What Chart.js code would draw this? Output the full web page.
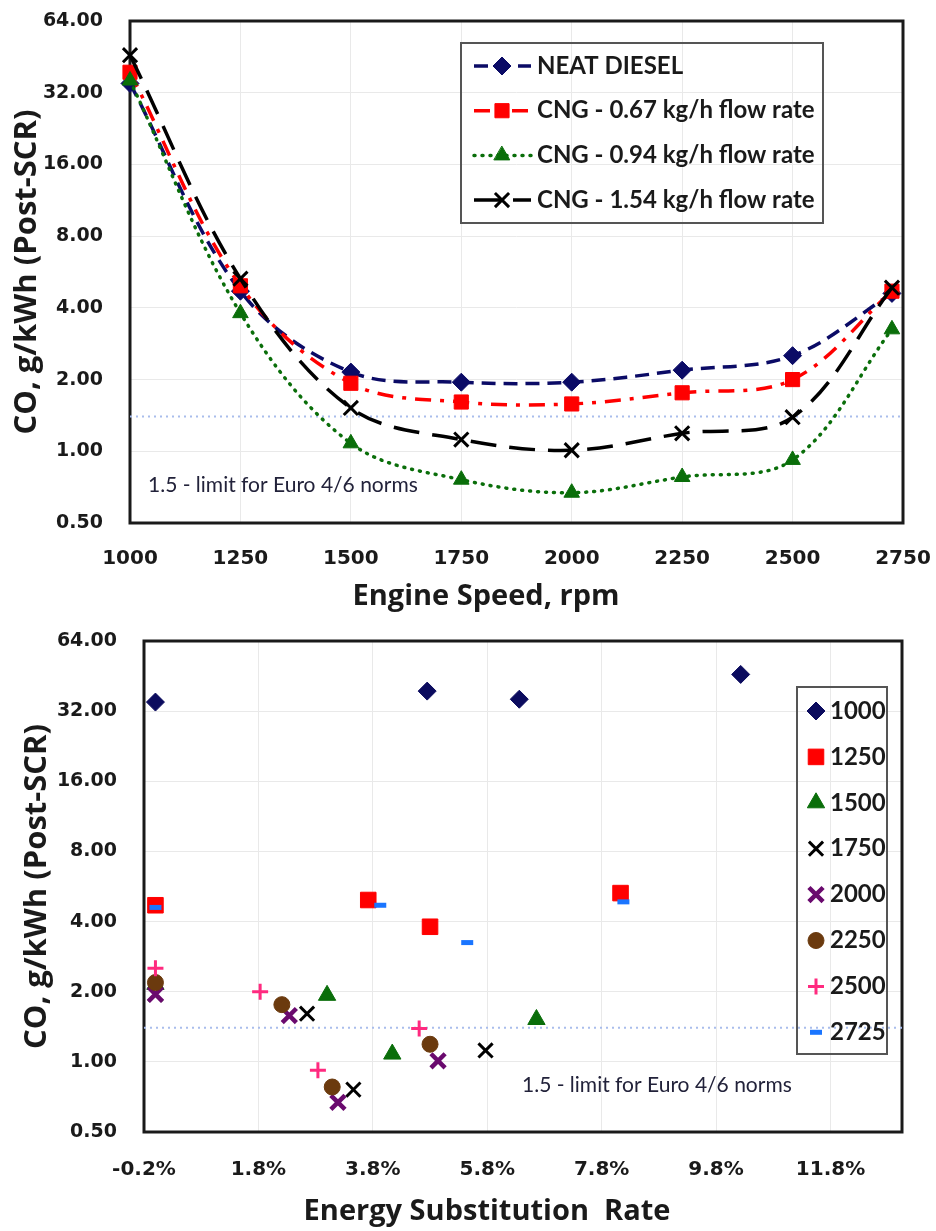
<!DOCTYPE html>
<html>
<head>
<meta charset="utf-8">
<title>CO (Post-SCR) vs engine speed and energy substitution rate</title>
<script src="https://cdn.jsdelivr.net/npm/chart.js@4.4.1/dist/chart.umd.min.js"></script>
<style>
  html, body { margin:0; padding:0; background:#fff; }
  canvas { display:block; }
</style>
</head>
<body>
<canvas id="speedChart" width="936" height="615"></canvas>
<canvas id="esrChart" width="936" height="616"></canvas>
<script>
// engine speeds (rpm) - last point is at 2725, axis runs to 2750
const engineSpeed = [1000, 1250, 1500, 1750, 2000, 2250, 2500, 2725];
const seriesLabels = ['NEAT DIESEL', 'CNG - 0.67 kg/h flow rate', 'CNG - 0.94 kg/h flow rate', 'CNG - 1.54 kg/h flow rate'];

// CO, g/kWh (post-SCR) per series
const coNeat = [35, 4.7, 2.15, 1.95, 1.95, 2.19, 2.52, 4.6];
const co067  = [39, 4.95, 1.93, 1.61, 1.58, 1.76, 2.0, 4.7];
const co094  = [36, 3.8, 1.08, 0.76, 0.67, 0.78, 0.92, 3.25];
const co154  = [46, 5.3, 1.52, 1.12, 1.01, 1.19, 1.39, 4.86];

// energy substitution rate (%) for the same points
const esrNeat = [0, 0, 0, 0, 0, 0, 0, 0];
const esr067  = [4.75, 3.72, 3.0, 2.65, 2.34, 2.21, 1.83, 3.93];
const esr094  = [6.36, 4.8, 4.14, 3.46, 3.19, 3.09, 2.84, 5.45];
const esr154  = [10.23, 8.13, 6.66, 5.77, 4.94, 4.8, 4.61, 8.18];

const speedLabels = ['1000', '1250', '1500', '1750', '2000', '2250', '2500', '2725'];
const coTicks = [0.5, 1, 2, 4, 8, 16, 32, 64];
const speedTicks = [1000, 1250, 1500, 1750, 2000, 2250, 2500, 2750];
const esrTicks = [-0.2, 1.8, 3.8, 5.8, 7.8, 9.8, 11.8];
const limitCO = 1.4;
const limitText = '1.5 - limit for Euro 4/6 norms';

Chart.defaults.font.family = 'Lato';
Chart.defaults.color = '#1a1a1a';

const TXT = '#1a1a1a';
const GRID = '#e9e9e9';
const tickFont = { family: 'DejaVu Sans', weight: 'bold', size: 19 };
const xTickFont = { family: 'DejaVu Sans', weight: 'bold', size: 20 };
const yTitleFont = { family: 'Open Sans', weight: 'bold', size: 31 };

// frame, limit note, x title (sits left of centre in the original) and the boxed legend
const decorPlugin = {
  id: 'decor',
  beforeDatasetsDraw(chart, args, o) {
    const { ctx, chartArea: a } = chart;
    ctx.save();
    ctx.strokeStyle = '#1a1a1a';
    ctx.lineWidth = 3;
    ctx.strokeRect(a.left, a.top, a.right - a.left, a.bottom - a.top);
    ctx.restore();
  },
  afterDatasetsDraw(chart, args, o) {
    const { ctx, chartArea: a } = chart;
    ctx.save();
    ctx.font = o.noteFont;
    ctx.fillStyle = '#22223a';
    ctx.textBaseline = 'middle';
    ctx.fillText(limitText, a.left + o.noteX, a.bottom - o.noteY);
    ctx.restore();
  },
  afterDraw(chart, args, o) {
    const ctx = chart.ctx;
    const L = o.legend;
    ctx.save();
    ctx.font = 'bold 29px "Open Sans"';
    ctx.fillStyle = TXT;
    ctx.textAlign = 'center';
    ctx.textBaseline = 'middle';
    ctx.fillText(o.xTitle, o.xTitleX, o.xTitleY);
    ctx.textAlign = 'left';

    ctx.strokeStyle = '#555';
    ctx.lineWidth = 2;
    ctx.strokeRect(L.x, L.y, L.w, L.h);
    ctx.font = L.font;
    let row = 0;
    chart.data.datasets.forEach(ds => {
      if (ds.noLegend) return;
      const y = L.y + L.first + row * L.gap;
      row++;
      if (L.lines) {
        ctx.setLineDash(ds.borderDash || []);
        ctx.lineCap = ds.borderCapStyle || 'butt';
        ctx.strokeStyle = ds.borderColor;
        ctx.lineWidth = ds.borderWidth;
        ctx.beginPath();
        ctx.moveTo(L.x + L.lineFrom, y);
        ctx.lineTo(L.x + L.lineTo, y);
        ctx.stroke();
        ctx.setLineDash([]);
      }
      ctx.fillStyle = ds.pointBackgroundColor;
      ctx.strokeStyle = ds.pointBorderColor;
      ctx.lineWidth = ds.pointBorderWidth;
      Chart.helpers.drawPoint(ctx, { pointStyle: ds.pointStyle, radius: ds.pointRadius, borderWidth: ds.pointBorderWidth, rotation: 0 }, L.x + L.markX, y);
      ctx.fillStyle = TXT;
      ctx.fillText(ds.label, L.x + L.textX, y);
    });
    ctx.restore();
  }
};

function logAxis(width, titlePad) {
  return {
    type: 'logarithmic', min: 0.5, max: 64,
    afterBuildTicks: s => { s.ticks = coTicks.map(v => ({ value: v })); },
    afterFit: s => { s.width = width; s.paddingTop = 0; s.paddingBottom = 0; },
    grid: { color: GRID, drawTicks: false },
    border: { display: false },
    ticks: { padding: 27, font: tickFont, color: TXT, autoSkip: false, callback: v => Number(v).toFixed(2) },
    title: { display: true, text: 'CO, g/kWh (Post-SCR)', font: yTitleFont, color: TXT, padding: { top: titlePad, bottom: 0 } }
  };
}

// ---- top chart: CO vs engine speed ----
const lineLooks = [
  { color: '#0b0b66', dash: [14, 8], cap: 'butt', style: 'rectRot', r: 9, bw: 1 },
  { color: '#ff0000', dash: [16, 9, 4, 9], cap: 'butt', style: 'rect', r: 10, bw: 1 },
  { color: '#0a6e0a', dash: [1, 7], cap: 'round', style: 'triangle', r: 9, bw: 1 },
  { color: '#000000', dash: [26, 13], cap: 'butt', style: 'crossRot', r: 10, bw: 3 }
];
const coSeries = [coNeat, co067, co094, co154];
const esrSeries = [esrNeat, esr067, esr094, esr154];

const speedDatasets = coSeries.map((vals, i) => {
  const lk = lineLooks[i];
  return {
    label: seriesLabels[i],
    data: engineSpeed.map((x, j) => ({ x: x, y: vals[j] })),
    borderColor: lk.color, borderWidth: 3.5, borderDash: lk.dash, borderCapStyle: lk.cap,
    pointStyle: lk.style, pointRadius: lk.r, pointBackgroundColor: lk.color,
    pointBorderColor: lk.color, pointBorderWidth: lk.bw,
    tension: 0.35, clip: false, order: 4 - i
  };
});
speedDatasets.push({
  label: 'limit', noLegend: true,
  data: [{ x: 1000, y: limitCO }, { x: 2750, y: limitCO }],
  borderColor: '#a9bdec', borderWidth: 2, borderDash: [2, 4], pointRadius: 0, order: 10
});

new Chart(document.getElementById('speedChart'), {
  type: 'line',
  data: { datasets: speedDatasets },
  options: {
    responsive: false, animation: false, events: [],
    layout: { padding: { top: 21, right: 33, left: 0, bottom: 0 }, autoPadding: false },
    scales: {
      x: {
        type: 'linear', min: 1000, max: 2750,
        afterBuildTicks: s => { s.ticks = speedTicks.map(v => ({ value: v })); },
        afterFit: s => { s.height = 92; s.paddingLeft = 0; s.paddingRight = 0; },
        grid: { color: GRID, drawTicks: false },
        border: { display: false },
        ticks: { padding: 24, font: xTickFont, color: TXT, autoSkip: false, maxRotation: 0, callback: v => String(v) },
        title: { display: false }
      },
      y: logAxis(130, 9)
    },
    plugins: {
      legend: { display: false }, tooltip: { enabled: false },
      decor: {
        noteFont: '21px Lato', noteX: 18, noteY: 38,
        xTitle: 'Engine Speed, rpm', xTitleX: 486, xTitleY: 597,
        legend: { x: 461, y: 43, w: 362, h: 180, first: 23, gap: 44.7, lines: true,
                  lineFrom: 13, lineTo: 70, markX: 41, textX: 76, font: 'bold 24px Lato' }
      }
    }
  },
  plugins: [decorPlugin]
});

// ---- bottom chart: CO vs energy substitution rate, grouped by speed ----
const pointLooks = [
  { color: '#0b0b5e', style: 'rectRot', r: 9, bw: 1 },
  { color: '#ff0000', style: 'rect', r: 11, bw: 1 },
  { color: '#0a6e0a', style: 'triangle', r: 10, bw: 1 },
  { color: '#000000', style: 'crossRot', r: 10, bw: 3 },
  { color: '#6a0a6e', style: 'crossRot', r: 10, bw: 4.5 },
  { color: '#6b3a0e', style: 'circle', r: 8, bw: 1 },
  { color: '#ff2a7f', style: 'cross', r: 8, bw: 3 },
  { color: '#1a75ff', style: 'line', r: 6, bw: 5 }
];

const esrDatasets = speedLabels.map((lab, j) => {
  const lk = pointLooks[j];
  return {
    label: lab,
    data: coSeries.map((vals, i) => ({ x: esrSeries[i][j], y: vals[j] })),
    showLine: false,
    pointStyle: lk.style, pointRadius: lk.r, pointBackgroundColor: lk.color,
    pointBorderColor: lk.color, pointBorderWidth: lk.bw,
    clip: false, order: 8 - j
  };
});
esrDatasets.push({
  label: 'limit', noLegend: true, type: 'line',
  data: [{ x: -0.2, y: limitCO }, { x: 13.05, y: limitCO }],
  borderColor: '#a9bdec', borderWidth: 2, borderDash: [2, 4], pointRadius: 0, order: 20
});

new Chart(document.getElementById('esrChart'), {
  type: 'scatter',
  data: { datasets: esrDatasets },
  options: {
    responsive: false, animation: false, events: [],
    layout: { padding: { top: 26, right: 34, left: 0, bottom: 0 }, autoPadding: false },
    scales: {
      x: {
        type: 'linear', min: -0.2, max: 13.05,
        afterBuildTicks: s => { s.ticks = esrTicks.map(v => ({ value: v })); },
        afterFit: s => { s.height = 99; s.paddingLeft = 0; s.paddingRight = 0; },
        grid: { color: GRID, drawTicks: false },
        border: { display: false },
        ticks: { padding: 26, font: xTickFont, color: TXT, autoSkip: false, maxRotation: 0, callback: v => Number(v).toFixed(1) + '%' },
        title: { display: false }
      },
      y: logAxis(144, 19)
    },
    plugins: {
      legend: { display: false }, tooltip: { enabled: false },
      decor: {
        noteFont: '21px Lato', noteX: 378, noteY: 47,
        xTitle: 'Energy Substitution  Rate', xTitleX: 487, xTitleY: 597,
        legend: { x: 797, y: 72, w: 90, h: 367, first: 24, gap: 45.9, lines: false,
                  markX: 19, textX: 33, font: 'bold 24px Lato' }
      }
    }
  },
  plugins: [decorPlugin]
});
</script>
</body>
</html>
